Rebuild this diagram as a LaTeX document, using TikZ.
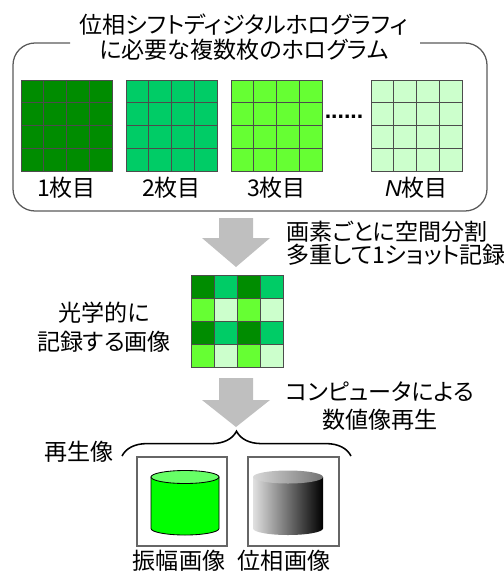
\documentclass[tikz,border=0pt]{standalone}
\usepackage{fontspec}
\setmainfont{Noto Sans CJK JP}[RawFeature=+palt]
\newfontfamily\latinfont{Liberation Sans}
\usepackage{xcolor}
\usepackage{tikz}
\usetikzlibrary{decorations.pathreplacing}
\definecolor{HoloA}{RGB}{0,140,0}
\definecolor{HoloB}{RGB}{0,204,102}
\definecolor{HoloC}{RGB}{102,255,51}
\definecolor{HoloN}{RGB}{204,255,204}
\definecolor{ArrowGray}{RGB}{191,191,191}
\definecolor{FrameGray}{RGB}{90,90,90}

% 4x4 hologram, top left corner at (#1,#2)
\newcommand{\hologram}[3]{%
	\foreach \i in {0,...,3}{
		\foreach \j in {0,...,3}{
			\draw[cell, fill=#3] ({#1+22.75*\i},{#2+22.75*\j}) rectangle ++(22.75,22.75);
		}
	}
}
% gray block arrow: centre x, top, start of head, tip
\newcommand{\blockarrow}[4]{%
	\fill[ArrowGray] ({#1-17},#2) -- ({#1+17},#2) -- ({#1+17},#3) -- ({#1+34},#3)
		-- (#1,#4) -- ({#1-34},#3) -- ({#1-17},#3) -- cycle;
}

\begin{document}
\begin{tikzpicture}[x=0.025cm, y=-0.025cm]
	\tikzset{
		t/.style={inner sep=0pt, font=\fontsize{16.4}{17.8}\selectfont},
		cell/.style={draw=black!70, line width=0.7pt},
		frame/.style={draw=FrameGray, line width=0.9pt},
		brace/.style={decorate, decoration={brace, amplitude=0.62cm}, line width=1.1pt}
	}
	\useasboundingbox (0,0) rectangle (504,575);
	
	% hologram set
	\draw[frame, rounded corners=0.55cm] (70,43) -- (13,43) -- (13,211) -- (487,211) -- (487,43) -- (420,43);
	\node[t, align=center] (title) at (244,37.5) {位相シフトディジタルホログラフィ\\に必要な複数枚のホログラム};
	
	\hologram{21}{80}{HoloA}
	\hologram{126}{80}{HoloB}
	\hologram{231}{80}{HoloC}
	\hologram{371}{80}{HoloN}
	\node[t] (dots) at (344,117) {\latinfont\bfseries ......};
	
	\node[t] (h1) at (66.5,188) {1枚目};
	\node[t] (h2) at (171.5,188) {2枚目};
	\node[t] (h3) at (276.5,188) {3枚目};
	\node[t] (hN) at (416.5,188) {{\latinfont\itshape N}枚目};
	
	% spatial multiplexing
	\blockarrow{236}{218}{238}{267}
	\node[t, anchor=west, align=left] (mux) at (286,243.5) {画素ごとに空間分割\\[-1.4pt]多重して1ショット記録};
	
	\foreach \j/\ca/\cb in {0/HoloA/HoloB, 1/HoloC/HoloN, 2/HoloA/HoloB, 3/HoloC/HoloN}{
		\foreach \i/\col in {0/\ca, 1/\cb, 2/\ca, 3/\cb}{
			\draw[cell, fill=\col] ({191+23*\i},{275+23*\j}) rectangle ++(23,23);
		}
	}
	\node[t, align=center] (rec) at (104,327.5) {光学的に\\[2.8pt]記録する画像};
	
	% numerical reconstruction
	\blockarrow{236}{378}{400}{427}
	\node[t, align=center] (calc) at (380,406) {コンピュータによる\\[2.1pt]数値像再生};
	
	\coordinate (bl) at (122,456);
	\coordinate (br) at (351,456);
	\draw[brace] (bl) -- (br);
	\node[t] (recon) at (79,452) {再生像};
	
	% amplitude and phase images
	\draw[frame, draw=black!60] (137,457) rectangle (227,546);
	\draw[frame, draw=black!60] (248,457) rectangle (339,546);
	
	\draw[fill=green, draw=black, line width=0.6pt] (151,477) -- (151,528.5) arc (180:0:34 and 6.5) -- (219,477) -- cycle;
	\draw[fill=green!60, draw=black, line width=0.6pt] (185,477) ellipse (34 and 6.5);
	
	\shade[left color=black!12, right color=black] (253,477) -- (253,528.5) arc (180:0:35 and 6.5) -- (323,477) -- cycle;
	\shade[left color=black!15, right color=black!55] (288,477) ellipse (35 and 6.5);
	
	\node[t] (amp) at (179,561) {振幅画像};
	\node[t] (pha) at (284,561) {位相画像};
\end{tikzpicture}
\end{document}
